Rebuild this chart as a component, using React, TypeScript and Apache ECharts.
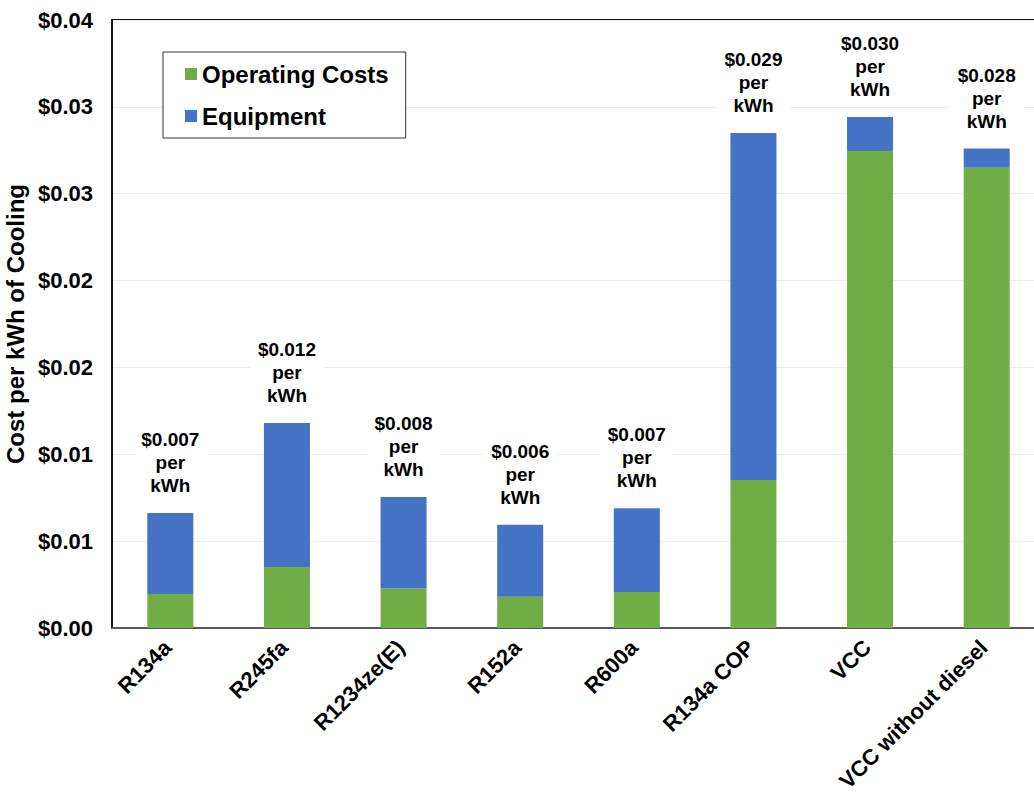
import React, { useEffect, useRef } from "react";
import * as echarts from "echarts";

const categories = ["R134a", "R245fa", "R1234ze(E)", "R152a", "R600a", "R134a COP", "VCC", "VCC without diesel"];
const operatingCosts = [0.00196, 0.00351, 0.00228, 0.0018, 0.00207, 0.00852, 0.02746, 0.0265];
const equipment = [0.00466, 0.00829, 0.00526, 0.00415, 0.00483, 0.01998, 0.00196, 0.0011];
const totalLabels = ["$0.007", "$0.012", "$0.008", "$0.006", "$0.007", "$0.029", "$0.030", "$0.028"];
const yTickLabels = ["$0.00", "$0.01", "$0.01", "$0.02", "$0.02", "$0.03", "$0.03", "$0.04"];
const yInterval = 0.005;

const FONT = "Arial, 'Liberation Sans', Helvetica, sans-serif";

export default function App() {
  const ref = useRef<HTMLDivElement>(null);
  useEffect(() => {
    if (!ref.current) return;
    const chart = echarts.init(ref.current, undefined, { renderer: "svg" });
    chart.setOption({
      animation: false,
      backgroundColor: "#ffffff",
      textStyle: { fontFamily: FONT },
      grid: {
        left: 112,
        top: 20,
        width: 933,
        height: 608,
        outerBoundsMode: "none",
        containLabel: false,
        show: true,
        borderColor: "#111111",
        borderWidth: 2,
        backgroundColor: "transparent",
      },
      legend: {
        orient: "vertical",
        left: 163,
        top: 52,
        data: ["Operating Costs", "Equipment"],
        icon: "rect",
        itemWidth: 12,
        itemHeight: 12,
        itemGap: 18,
        padding: [10, 17, 10, 22],
        backgroundColor: "#ffffff",
        borderColor: "#333333",
        borderWidth: 1,
        textStyle: { fontSize: 24, fontWeight: "bold", color: "#000", fontFamily: FONT },
      },
      xAxis: {
        type: "category",
        data: categories,
        axisLine: { lineStyle: { color: "#595959", width: 2 } },
        axisTick: { show: false },
        axisLabel: {
          rotate: 45,
          margin: 13,
          padding: [0, 4, 0, 0],
          fontSize: 22,
          fontWeight: "bold",
          color: "#000",
          fontFamily: FONT,
          interval: 0,
        },
      },
      yAxis: {
        type: "value",
        min: 0,
        max: 0.035,
        interval: yInterval,
        name: "Cost per kWh of Cooling",
        nameLocation: "middle",
        nameGap: 74,
        nameTextStyle: { fontSize: 24, fontWeight: "bold", color: "#000", fontFamily: FONT },
        axisLine: { show: true, lineStyle: { color: "#111", width: 2 } },
        axisTick: { show: false },
        axisLabel: {
          margin: 19,
          fontSize: 22,
          fontWeight: "bold",
          color: "#000",
          fontFamily: FONT,
          formatter: (v: number) => yTickLabels[Math.round(v / yInterval)] ?? "",
        },
        splitLine: { lineStyle: { color: "#ececec", width: 1 } },
      },
      series: [
        {
          name: "Operating Costs",
          type: "bar",
          stack: "total",
          barWidth: 46,
          data: operatingCosts,
          itemStyle: { color: "#70AD47" },
        },
        {
          name: "Equipment",
          type: "bar",
          stack: "total",
          barWidth: 46,
          data: equipment,
          itemStyle: { color: "#4472C4" },
          label: {
            show: true,
            position: "top",
            distance: 14,
            formatter: (p: any) => `${totalLabels[p.dataIndex]}\nper\nkWh`,
            fontSize: 19,
            lineHeight: 23,
            fontWeight: "bold",
            color: "#000",
            fontFamily: FONT,
            backgroundColor: "#ffffff",
            padding: [2, 8, 2, 8],
            align: "center",
          },
        },
      ],
    });
    return () => chart.dispose();
  }, []);
  return (
    <div
      ref={ref}
      style={{ position: "fixed", left: 0, top: 0, width: 1034, height: 793, background: "#fff" }}
    />
  );
}
